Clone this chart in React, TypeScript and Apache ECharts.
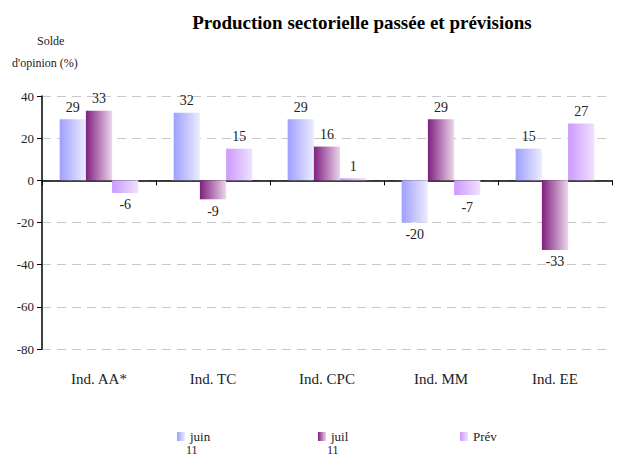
import React, { useEffect, useRef } from "react";
import * as echarts from "echarts";

const categories = ["Ind. AA*", "Ind. TC", "Ind. CPC", "Ind. MM", "Ind. EE"];
const seriesNames = ["juin 11", "juil 11", "Prév"];
const juin11 = [29, 32, 29, -20, 15];
const juil11 = [33, -9, 16, 29, -33];
const prev = [-6, 15, 1, -7, 27];
const yTicks = { min: -80, max: 40, interval: 20 };

const FONT = "Liberation Serif";
const legendLeft = [172, 313, 455];

function grad(a: string, b: string) {
  return new echarts.graphic.LinearGradient(0, 0, 1, 0, [
    { offset: 0, color: a },
    { offset: 1, color: b },
  ]);
}

export default function App() {
  const ref = useRef<HTMLDivElement>(null);
  useEffect(() => {
    if (!ref.current) return;
    const chart = echarts.init(ref.current, undefined, { renderer: "svg" });
    const colors = [
      grad("#9f9fff", "#ececff"),
      grad("#80207f", "#ecd6ec"),
      grad("#cc99ff", "#f0e2ff"),
    ];
    const datasets = [juin11, juil11, prev];
    const label = {
      show: true,
      fontFamily: FONT,
      fontSize: 14,
      color: "#222",
      distance: 5,
    };
    const secondLines = seriesNames
      .map((n, i) => ({ rest: n.split(" ").slice(1).join(" "), i }))
      .filter((o) => o.rest)
      .map((o) => ({
        type: "text",
        left: legendLeft[o.i] + 14,
        top: 444,
        style: { text: o.rest, fontFamily: FONT, fontSize: 12, fill: "#222" },
      }));
    chart.setOption({
      animation: false,
      backgroundColor: "#fff",
      textStyle: { fontFamily: FONT },
      title: {
        text: "Production sectorielle passée et prévisions",
        left: 357,
        textAlign: "center",
        top: 8,
        textStyle: { fontFamily: FONT, fontSize: 19, fontWeight: "bold", color: "#000" },
      },
      graphic: [
        {
          type: "text",
          left: 37,
          top: 35,
          style: { text: "Solde", fontFamily: FONT, fontSize: 12, fill: "#222" },
        },
        {
          type: "text",
          left: 12,
          top: 57,
          style: { text: "d'opinion (%)", fontFamily: FONT, fontSize: 12, fill: "#222" },
        },
        ...secondLines,
      ],
      legend: seriesNames.map((n, i) => ({
        data: [n],
        left: legendLeft[i],
        top: 425,
        itemWidth: 8,
        itemHeight: 9,
        itemGap: 4,
        icon: "rect",
        formatter: (s: string) => s.split(" ")[0],
        textStyle: { fontFamily: FONT, fontSize: 13, color: "#222" },
      })),
      grid: { left: 42, right: 8, top: 96, bottom: 110 },
      xAxis: [
        {
          type: "category",
          data: categories,
          position: "bottom",
          axisLine: { show: false, onZero: false },
          axisTick: { show: false },
          axisLabel: { fontFamily: FONT, fontSize: 15, color: "#222", margin: 22 },
        },
        {
          type: "category",
          data: categories,
          position: "bottom",
          axisLine: { show: true, onZero: true, lineStyle: { color: "#000", width: 1.5 } },
          axisTick: { show: true, length: 5, lineStyle: { color: "#000" } },
          axisLabel: { show: false },
        },
      ],
      yAxis: {
        type: "value",
        min: yTicks.min,
        max: yTicks.max,
        interval: yTicks.interval,
        axisLine: { show: true, lineStyle: { color: "#000", width: 1.5 } },
        axisTick: { show: true, length: 5, lineStyle: { color: "#000" } },
        axisLabel: { fontFamily: FONT, fontSize: 13, color: "#222", margin: 8 },
        splitLine: { show: true, lineStyle: { color: "#c8c8c8", type: [9, 6], width: 1 } },
      },
      series: datasets.map((d, i) => ({
        name: seriesNames[i],
        type: "bar",
        xAxisIndex: 0,
        barGap: "0%",
        barCategoryGap: "31%",
        itemStyle: { color: colors[i] },
        data: d.map((v) => ({
          value: v,
          label: { ...label, position: v >= 0 ? "top" : "bottom" },
        })),
      })),
    });
    return () => chart.dispose();
  }, []);
  return <div ref={ref} style={{ width: 620, height: 459, position: "absolute", left: 0, top: 0 }} />;
}
